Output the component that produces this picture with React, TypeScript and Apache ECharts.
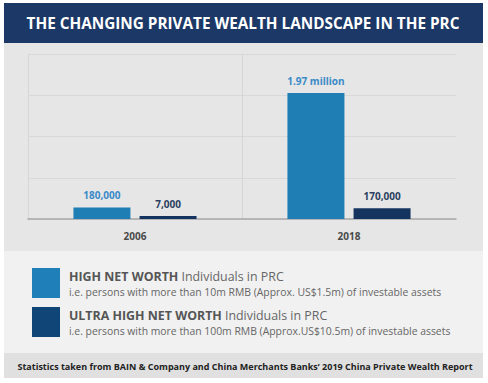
import React, { useEffect, useRef } from "react";
import * as echarts from "echarts";

const categories = ["2006", "2018"];
const hnwValues = [180000, 1970000];
const uhnwValues = [7000, 170000];
const hnwLabels = ["180,000", "1.97 million"];
const uhnwLabels = ["7,000", "170,000"];
const seriesNames = ["HIGH NET WORTH", "ULTRA HIGH NET WORTH"];
const seriesDescs = [
  "i.e. persons with more than 10m RMB (Approx. US$1.5m) of investable assets",
  "i.e. persons with more than 100m RMB (Approx.US$10.5m) of investable assets",
];
const titleText = "THE CHANGING PRIVATE WEALTH LANDSCAPE IN THE PRC";
const footerText =
  "Statistics taken from BAIN & Company and China Merchants Banks\u2019 2019 China Private Wealth Report";

const FONT = "Open Sans";

export default function App() {
  const ref = useRef<HTMLDivElement>(null);
  useEffect(() => {
    document.body.style.margin = "0";
    const chart = echarts.init(ref.current!, null, { renderer: "svg" });
    chart.setOption({
      animation: false,
      backgroundColor: "#ffffff",
      textStyle: { fontFamily: FONT },
      graphic: [
        { type: "rect", shape: { x: 4, y: 3, width: 479, height: 40 }, style: { fill: "#1c3866" }, z: -10 },
        { type: "rect", shape: { x: 4, y: 43, width: 479, height: 208 }, style: { fill: "#e6e6e6" }, z: -10 },
        { type: "rect", shape: { x: 4, y: 251, width: 479, height: 102 }, style: { fill: "#f1f1f1" }, z: -10 },
        { type: "rect", shape: { x: 4, y: 353, width: 479, height: 25 }, style: { fill: "#e0e0e0" }, z: -10 },
        {
          type: "text",
          x: 243,
          y: 23,
          style: {
            text: titleText,
            fill: "#ffffff",
            font: `bold 15.3px "${FONT}"`,
            align: "center",
            verticalAlign: "middle",
          },
        },
        {
          type: "text",
          x: 245,
          y: 366,
          style: {
            text: footerText,
            fill: "#222222",
            font: `bold 9px "${FONT}"`,
            align: "center",
            verticalAlign: "middle",
          },
        },
      ],
      legend: {
        orient: "vertical",
        left: 32,
        top: 268,
        padding: 0,
        itemWidth: 28,
        itemHeight: 30,
        itemGap: 9,
        icon: "rect",
        data: [
          { name: seriesNames[0], itemStyle: { color: "#1f7fb8" } },
          { name: seriesNames[1], itemStyle: { color: "#0f4677" } },
        ],
        formatter: (name: string) => {
          const i = seriesNames.indexOf(name);
          return `{b|${name}} {r|Individuals in PRC}\n{s|${seriesDescs[i]}}`;
        },
        textStyle: {
          padding: [0, 0, 0, 4],
          rich: {
            b: { fontFamily: FONT, fontWeight: "bold", fontSize: 12.4, color: "#555555", lineHeight: 17 },
            r: { fontFamily: FONT, fontSize: 12.4, color: "#666666", lineHeight: 17 },
            s: { fontFamily: FONT, fontSize: 10.4, color: "#666666", lineHeight: 14 },
          },
        },
      },
      grid: { left: 28, right: 32, top: 54, bottom: 164 },
      xAxis: {
        type: "category",
        data: categories,
        axisTick: { show: false },
        axisLine: { lineStyle: { color: "#a8a8a8", width: 1.5 } },
        axisLabel: { color: "#4a4a4a", fontWeight: "bold", fontSize: 10, margin: 12, fontFamily: FONT },
        splitLine: { show: true, showMaxLine: false, lineStyle: { color: "#d6d6d6" } },
      },
      yAxis: {
        type: "value",
        min: 0,
        max: 2580000,
        interval: 645000,
        axisLabel: { show: false },
        axisLine: { show: false },
        axisTick: { show: false },
        splitLine: { lineStyle: { color: "#d8d8d8" } },
      },
      series: [
        {
          name: seriesNames[0],
          type: "bar",
          data: hnwValues,
          barWidth: 57,
          barGap: "16%",
          barMinHeight: 3,
          itemStyle: { color: "#1f7fb4" },
          label: {
            show: true,
            position: "top",
            distance: 7,
            color: "#3a8ac8",
            fontWeight: "bold",
            fontSize: 10,
            fontFamily: FONT,
            formatter: (p: any) => hnwLabels[p.dataIndex],
          },
        },
        {
          name: seriesNames[1],
          type: "bar",
          data: uhnwValues,
          barWidth: 57,
          barMinHeight: 3,
          itemStyle: { color: "#14345f" },
          label: {
            show: true,
            position: "top",
            distance: 7,
            color: "#2a3f5f",
            fontWeight: "bold",
            fontSize: 10,
            fontFamily: FONT,
            formatter: (p: any) => uhnwLabels[p.dataIndex],
          },
        },
      ],
    });
    return () => chart.dispose();
  }, []);
  return <div ref={ref} style={{ width: 488, height: 383 }} />;
}
